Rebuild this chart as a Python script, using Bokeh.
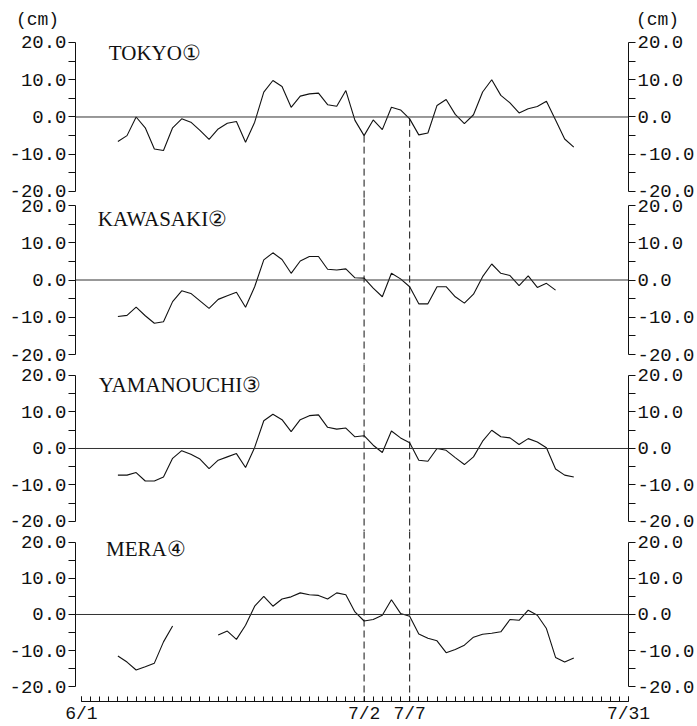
from bokeh.plotting import figure
from bokeh.models import (Range1d, LinearAxis, FixedTicker, PrintfTickFormatter,
                          Span, Label, ColumnDataSource)
from bokeh.layouts import column
from bokeh.embed import file_html
from bokeh.resources import INLINE

NaN = float("nan")

# ---- data (day index: 0 = 6/1, 60 = 7/31) ----
start_day = 4
tokyo = [-6.6, -5.0, 0.0, -2.9, -8.6, -9.0, -2.9, -0.5, -1.4, -3.6, -6.0, -3.2, -1.7,
         -1.2, -6.8, -1.4, 6.7, 9.8, 8.2, 2.6, 5.6, 6.2, 6.4, 3.3, 2.9, 7.1, -0.9, -5.0,
         -0.8, -3.4, 2.6, 1.9, -0.5, -4.8, -4.3, 3.1, 4.7, 0.7, -1.8, 0.6, 6.7, 10.0,
         5.8, 3.8, 1.1, 2.2, 2.8, 4.2, -0.8, -5.9, -8.1]
kawasaki = [-9.8, -9.5, -7.3, -9.6, -11.6, -11.2, -5.8, -2.9, -3.6, -5.6, -7.6, -5.2,
            -4.2, -3.3, -7.3, -1.8, 5.4, 7.3, 5.5, 1.8, 5.1, 6.3, 6.3, 2.9, 2.7, 3.0,
            0.6, 0.5, -2.2, -4.5, 1.8, 0.3, -1.8, -6.4, -6.4, -1.8, -1.8, -4.5, -6.2,
            -3.8, 0.9, 4.3, 1.8, 1.2, -1.5, 1.1, -2.0, -0.9, -2.7]
yamanouchi = [-7.3, -7.3, -6.6, -8.9, -8.9, -7.8, -2.7, -0.6, -1.6, -2.9, -5.5, -3.2,
              -2.3, -1.4, -5.2, 0.3, 7.6, 9.4, 7.9, 4.6, 7.9, 9.0, 9.2, 5.8, 5.3, 5.6,
              3.2, 3.5, 0.9, -1.1, 4.8, 2.9, 1.6, -3.2, -3.5, 0.0, -0.5, -2.5, -4.4,
              -2.3, 2.0, 5.0, 3.2, 2.9, 1.1, 2.7, 1.8, 0.2, -5.6, -7.3, -7.8]
mera = [-11.5, -13.2, -15.4, -14.5, -13.5, -7.6, -3.2, NaN, NaN, NaN, NaN,
        -5.7, -4.6, -6.9, -3.0, 2.3, 5.0, 2.3, 4.3, 4.9, 6.0, 5.5, 5.3, 4.3, 6.0, 5.5,
        0.7, -1.8, -1.4, -0.2, 4.1, 0.3, -0.5, -5.4, -6.6, -7.3, -10.6, -9.7, -8.5,
        -6.3, -5.5, -5.2, -4.8, -1.4, -1.6, 1.2, -0.2, -3.9, -11.9, -13.2, -12.1]

station_names = ["TOKYO①", "KAWASAKI②", "YAMANOUCHI③", "MERA④"]
series = [tokyo, kawasaki, yamanouchi, mera]
event_days = [31, 36]
date_ticks = [0, 31, 36, 60]
date_labels = ["6/1", "7/2", "7/7", "7/31"]
day_ticks = list(range(0, 61))
y_ticks = [-20, -10, 0, 10, 20]
y_minor = [-15, -5, 5, 15]
unit_label = "(cm)"

# ---- layout ----
W = 697
LEFT, RIGHT = 75, 67
HEAD_H = 30
frame_heights = [168, 166, 167, 171]
y_ranges = [(-21.88, 23.22), (-22.68, 21.88), (-22.74, 23.01), (-24.14, 23.03)]
title_pos = [(3.0, 17.1), (1.8, 16.3), (1.9, 17.3), (2.7, 18.1)]
PAD = 12
X0, X1 = -0.65, 60.0
NUM_FONT = "Liberation Mono"
TXT_FONT = "Liberation Serif"
INK = "#111111"

# header strip carrying the unit labels
head = figure(width=W, height=HEAD_H, title=None, x_range=Range1d(0, W),
              y_range=Range1d(HEAD_H, 0),
              x_axis_location=None, y_axis_location=None, toolbar_location=None,
              output_backend="svg", min_border=0)
head.outline_line_color = None
head.grid.visible = False
head.border_fill_color = None
head.background_fill_color = None
for ux in (37, 657):
    head.add_layout(Label(x=ux, y=19, text=unit_label, text_align="center",
                          text_baseline="middle", text_font=NUM_FONT,
                          text_font_size="18px", text_color=INK))

figs = []
n = len(series)
for i, vals in enumerate(series):
    top_b = 0 if i == 0 else PAD
    bot_b = 24 if i == n - 1 else PAD
    p = figure(width=W, height=frame_heights[i] + top_b + bot_b, title=None,
               x_range=Range1d(X0, X1), y_range=Range1d(*y_ranges[i]),
               x_axis_location=None, y_axis_location=None,
               toolbar_location=None, output_backend="svg",
               min_border_left=LEFT, min_border_right=RIGHT,
               min_border_top=top_b, min_border_bottom=bot_b)
    if i > 0:
        p.margin = (-2 * PAD, 0, 0, 0)
    p.outline_line_color = None
    p.grid.visible = False
    p.border_fill_color = None
    p.background_fill_color = None

    for side in ("left", "right"):
        ax = LinearAxis(ticker=FixedTicker(ticks=y_ticks, minor_ticks=y_minor),
                        formatter=PrintfTickFormatter(format="%.1f"),
                        bounds=(-20, 20),
                        major_tick_in=0, major_tick_out=7,
                        minor_tick_in=0, minor_tick_out=7,
                        major_label_standoff=2,
                        axis_line_color=INK, major_tick_line_color=INK,
                        minor_tick_line_color=INK,
                        major_label_text_font=NUM_FONT,
                        major_label_text_font_size="19px",
                        major_label_text_color=INK)
        p.add_layout(ax, side)

    p.add_layout(Span(location=0, dimension="width", line_color="#333333", line_width=1))

    days = list(range(start_day, start_day + len(vals)))
    src = ColumnDataSource(data=dict(x=days, y=vals))
    p.line("x", "y", source=src, line_color=INK, line_width=1.1)

    # dashed event lines running through the panels
    if i == 0:
        y0 = [vals[d - start_day] for d in event_days]
    else:
        y0 = [y_ranges[i][1]] * len(event_days)
    y1 = [y_ranges[i][0]] * len(event_days)
    p.segment(x0=event_days, y0=y0, x1=event_days, y1=y1,
              line_color=INK, line_width=1, line_dash="7 4")

    tx, ty = title_pos[i]
    p.add_layout(Label(x=tx, y=ty, text=station_names[i], text_align="left",
                       text_baseline="middle", text_font=TXT_FONT,
                       text_font_size="21px", text_color=INK))

    if i == n - 1:
        xa = LinearAxis(ticker=FixedTicker(ticks=date_ticks, minor_ticks=day_ticks),
                        major_label_overrides={t: l for t, l in zip(date_ticks, date_labels)},
                        bounds=(0, 60),
                        major_tick_in=5, major_tick_out=0,
                        minor_tick_in=5, minor_tick_out=0,
                        major_label_standoff=2,
                        axis_line_color=INK, major_tick_line_color=INK,
                        minor_tick_line_color=INK,
                        major_label_text_font=NUM_FONT,
                        major_label_text_font_size="18px",
                        major_label_text_color=INK)
        p.add_layout(xa, "below")
    figs.append(p)

layout = column(head, column(*figs, spacing=0), spacing=0)
open("out.html", "w").write(file_html(layout, INLINE))
